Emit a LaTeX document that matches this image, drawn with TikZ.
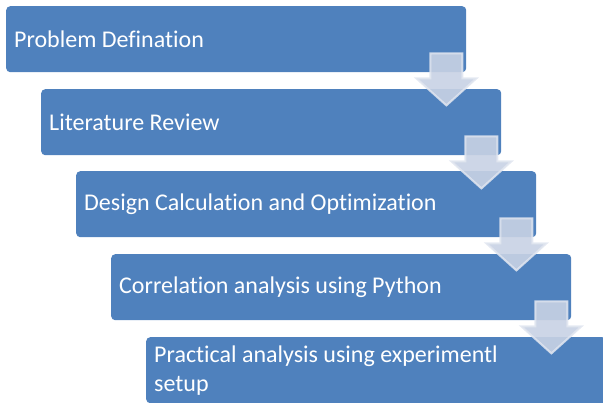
\documentclass[tikz,border=0pt]{standalone}
\usepackage{fontspec}
\setmainfont{Carlito}[Ligatures=NoCommon]
\usetikzlibrary{positioning,calc}
\definecolor{stepBlue}{RGB}{79,129,189}
\definecolor{arrowFill}{RGB}{200,210,228}
\definecolor{arrowLine}{RGB}{225,230,240}

\begin{document}
\begin{tikzpicture}[x=1pt, y=1pt,
    stepbox/.style={fill=stepBlue, rounded corners=4pt, text=white, font=\fontsize{24}{29}\selectfont, text width=444pt, align=flush left, inner sep=8pt, minimum height=66pt, anchor=north west},
    downarrow/.style={fill=arrowFill, fill opacity=0.9, draw=arrowLine, draw opacity=0.85, line width=2pt}]
    \clip (0,0) rectangle (603,-403);
    \node[stepbox] (a) at (6,-6) {Problem Defination};
    \node[stepbox] (b) at (41,-89) {Literature Review};
    \node[stepbox] (c) at (76,-171) {Design Calculation and Optimization};
    \node[stepbox] (d) at (111,-254) {Correlation analysis using Python};
    \node[stepbox] (e) at (146,-337) {Practical analysis using experimentl\\setup};

    % block arrows between the steps
    \foreach \u in {a,b,c,d} {
      \draw[downarrow] ($(\u.south east)+(-36,19)$) -- ++(32,0) -- ++(0,-25) -- ++(14,0)
        -- ($(\u.south east)+(-20,-33)$) -- ($(\u.south east)+(-50,-6)$) -- ++(14,0) -- cycle;
    }
\end{tikzpicture}
\end{document}
